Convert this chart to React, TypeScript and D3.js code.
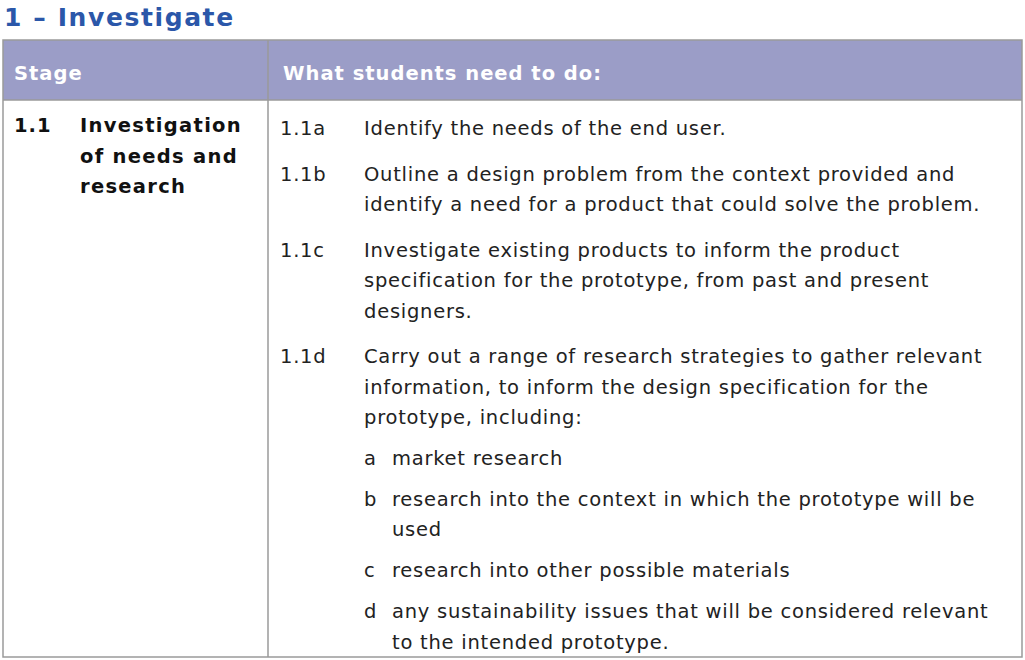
import * as d3 from "d3";

const title = "1 – Investigate";
const headers = ["Stage", "What students need to do:"];
const stageCode = "1.1";
const stageLines = ["Investigation", "of needs and", "research"];
const codes = ["1.1a", "1.1b", "1.1c", "1.1d"];
const items = [
  ["Identify the needs of the end user."],
  ["Outline a design problem from the context provided and", "identify a need for a product that could solve the problem."],
  ["Investigate existing products to inform the product", "specification for the prototype, from past and present", "designers."],
  ["Carry out a range of research strategies to gather relevant", "information, to inform the design specification for the", "prototype, including:"],
];
const subLetters = ["a", "b", "c", "d"];
const subItems = [
  ["market research"],
  ["research into the context in which the prototype will be", "used"],
  ["research into other possible materials"],
  ["any sustainability issues that will be considered relevant", "to the intended prototype."],
];

export default function App() {
  const font = "DejaVu Sans, Verdana, sans-serif";
  const lh = 30.5;
  const gap = 15;
  const fs = 19.5;
  const ls = 0.75;
  const left = 3, right = 1022, split = 268, top = 40, hb = 100, bottom = 657;

  const blocks: { code?: string; letter?: string; lines: string[]; y: number }[] = [];
  let y = 135;
  items.forEach((lines, i) => {
    blocks.push({ code: codes[i], lines, y });
    y += lines.length * lh + gap;
  });
  y -= 5;
  subItems.forEach((lines, i) => {
    blocks.push({ letter: subLetters[i], lines, y });
    y += lines.length * lh + gap - 4.5;
  });

  const x = d3.scaleLinear().domain([0, 1]).range([left, right]);

  return (
    <svg width={1025} height={660} style={{ position: "absolute", left: 0, top: 0 }} fontFamily={font}>
      <rect width={1025} height={660} fill="#fff" />
      <text x={4} y={26} fontSize={25} fontWeight="bold" fill="#2b57a9" letterSpacing={1.6}>{title}</text>
      <rect x={x(0)} y={top} width={x(1) - x(0)} height={hb - top} fill="#9b9dc7" />
      <rect x={x(0)} y={top} width={x(1) - x(0)} height={bottom - top} fill="none" stroke="#9a9a9a" strokeWidth={1.5} />
      <line x1={split} x2={split} y1={top} y2={bottom} stroke="#9a9a9a" strokeWidth={1.5} />
      <line x1={left} x2={right} y1={hb} y2={hb} stroke="#9a9a9a" strokeWidth={1.5} />
      <text x={14} y={80} fontSize={fs} fontWeight="bold" fill="#fff" letterSpacing={1}>{headers[0]}</text>
      <text x={283} y={80} fontSize={fs} fontWeight="bold" fill="#fff" letterSpacing={1}>{headers[1]}</text>
      <text x={14} y={132} fontSize={fs} fontWeight="bold" fill="#111" letterSpacing={1}>{stageCode}</text>
      {stageLines.map((s, i) => (
        <text key={s} x={80} y={132 + i * lh} fontSize={fs} fontWeight="bold" fill="#111" letterSpacing={1.3}>{s}</text>
      ))}
      {blocks.map((b, i) => (
        <g key={i} fontSize={fs} fill="#222" letterSpacing={ls}>
          {b.code && <text x={280} y={b.y}>{b.code}</text>}
          {b.letter && <text x={364} y={b.y}>{b.letter}</text>}
          {b.lines.map((l, j) => (
            <text key={j} x={b.letter ? 392 : 364} y={b.y + j * lh}>{l}</text>
          ))}
        </g>
      ))}
    </svg>
  );
}
